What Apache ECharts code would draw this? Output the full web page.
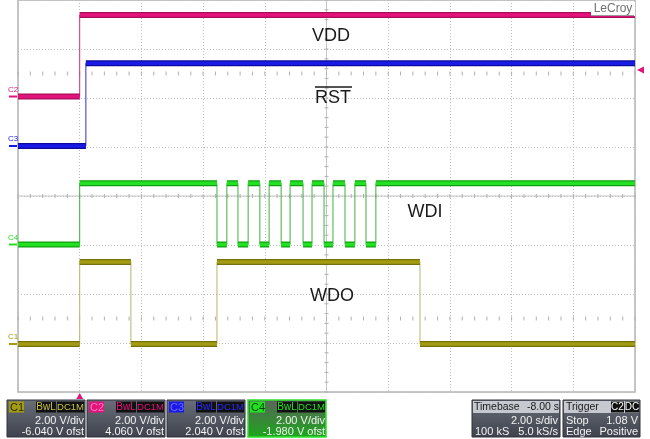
<!DOCTYPE html>
<html><head><meta charset="utf-8">
<script src="https://cdn.jsdelivr.net/npm/echarts@6/dist/echarts.min.js"></script>
<style>html,body{margin:0;padding:0;background:#fff}#c{width:650px;height:439px}</style>
</head><body><div id="c"></div>
<script>
// ---- data ----
const timeMin = -2, timeMax = 18, secPerDiv = 2;     // 10 divisions, trigger at t=0
const divMin = -4, divMax = 4;                       // 8 vertical divisions
const chNames = ['C1', 'C2', 'C3', 'C4'];
const vPerDiv = [2.00, 2.00, 2.00, 2.00];
const vOffsets = [-6.040, 4.060, 2.040, -1.980];
const c1Times = [-2, 0, 1.66, 4.45, 11.03, 18];
const c1Levels = [0, 3.35, 0, 3.35, 0];
const c2Times = [-2, 0, 18];
const c2Levels = [0, 3.33];
const c3Times = [-2, 0.2, 18];
const c3Levels = [0, 3.38];
const c4Times = [-2, 0, 4.45, 4.77, 5.13, 5.46, 5.84, 6.14, 6.53, 6.82, 7.24, 7.53, 7.92, 8.21, 8.60, 8.92, 9.28, 9.60, 18];
const c4Levels = [0, 2.5, 0, 2.5, 0, 2.5, 0, 2.5, 0, 2.5, 0, 2.5, 0, 2.5, 0, 2.5, 0, 2.5];
const signalNames = ['WDO', 'VDD', 'RST', 'WDI'];
const timebaseText = ['Timebase', '-8.00 s', '2.00 s/div', '100 kS', '5.0 kS/s'];
const triggerText = ['Trigger', 'C2', 'DC', 'Stop', '1.08 V', 'Edge', 'Positive'];
const triggerLevel = 1.08; // volts on C2

// ---- styles ----
const chColor = ['#a39c12', '#e3137c', '#1a1ae6', '#22e022'];
const chDark = ['#77700a', '#a80e5a', '#0c0c9c', '#12a012'];
const chEdge = ['#b8b470', '#d0307a', '#3030d0', '#40b040'];
const chLabelText = ['#2a2600', '#ff7ac0', '#6a6aff', '#004400'];
const chTagText = ['#c8c048', '#e3137c', '#2a2aff', '#22e022'];

const times = [c1Times, c2Times, c3Times, c4Times];
const levels = [c1Levels, c2Levels, c3Levels, c4Levels];

function levelData(t, l) {
  const d = [];
  for (let i = 0; i < l.length; i++) { d.push([t[i], l[i]]); d.push([t[i + 1], l[i]]); d.push([t[i + 1], null]); }
  return d;
}
function edgeData(t, l) {
  const d = [];
  for (let i = 1; i < l.length; i++) { d.push([t[i], l[i - 1]]); d.push([t[i], l[i]]); d.push([t[i], null]); }
  return d;
}

const yAxes = [{
  type: 'value', min: divMin, max: divMax, interval: 1,
  axisLabel: { show: false }, axisTick: { show: false }, axisLine: { show: false },
  splitLine: { show: true, lineStyle: { color: '#bdbdbd', type: [1, 2], width: 1 } }
}];
for (let i = 0; i < 4; i++) {
  const c = -vOffsets[i];
  yAxes.push({ type: 'value', show: false, min: c + divMin * vPerDiv[i], max: c + divMax * vPerDiv[i], splitLine: { show: false } });
}

const series = [{
  type: 'custom', xAxisIndex: 0, yAxisIndex: 0, silent: true, z: 1, clip: false,
  data: [[0, 0]],
  renderItem: function (params, api) {
    const ch = [];
    const st = { stroke: '#b0b0b0', lineWidth: 1 };
    const cx = (timeMin + timeMax) / 2;
    const p0 = api.coord([timeMin, 0]), p1 = api.coord([timeMax, 0]);
    ch.push({ type: 'line', shape: { x1: p0[0], y1: p0[1], x2: p1[0], y2: p1[1] }, style: { stroke: '#c4c4c4', lineWidth: 1 } });
    const q0 = api.coord([cx, divMin]), q1 = api.coord([cx, divMax]);
    ch.push({ type: 'line', shape: { x1: q0[0], y1: q0[1], x2: q1[0], y2: q1[1] }, style: { stroke: '#c4c4c4', lineWidth: 1 } });
    [0, 2.5, -2.5].forEach(function (yv) {
      for (let t = timeMin; t <= timeMax + 1e-9; t += secPerDiv / 5) {
        const p = api.coord([t, yv]);
        ch.push({ type: 'line', shape: { x1: p[0], y1: p[1] - 2, x2: p[0], y2: p[1] + 2 }, style: st });
      }
    });
    for (let v = divMin; v <= divMax + 1e-9; v += 0.2) {
      const p = api.coord([cx, v]);
      ch.push({ type: 'line', shape: { x1: p[0] - 2, y1: p[1], x2: p[0] + 2, y2: p[1] }, style: st });
    }
    return { type: 'group', children: ch };
  }
}];
for (let i = 0; i < 4; i++) {
  const base = { type: 'line', xAxisIndex: 0, yAxisIndex: i + 1, symbol: 'none', connectNulls: false, silent: true, animation: false };
  series.push(Object.assign({}, base, { name: chNames[i] + 'edge', data: edgeData(times[i], levels[i]), lineStyle: { color: chEdge[i], width: 1 }, z: 3 }));
  series.push(Object.assign({}, base, { name: chNames[i] + 'o', data: levelData(times[i], levels[i]), lineStyle: { color: chDark[i], width: 6 }, z: 4 }));
  series.push(Object.assign({}, base, { name: chNames[i], data: levelData(times[i], levels[i]), lineStyle: { color: chColor[i], width: 3.5 }, z: 5 }));
}

const chart = echarts.init(document.getElementById('c'), null, { renderer: 'canvas' });
chart.setOption({
  animation: false,
  backgroundColor: '#ffffff',
  grid: { left: 18, top: 0, width: 617, height: 392, show: true, borderColor: '#b4b4b4', borderWidth: 1.5, backgroundColor: 'transparent' },
  xAxis: {
    type: 'value', min: timeMin, max: timeMax, interval: secPerDiv,
    axisLabel: { show: false }, axisTick: { show: false }, axisLine: { show: false },
    splitLine: { show: true, lineStyle: { color: '#bdbdbd', type: [1, 2], width: 1 } }
  },
  yAxis: yAxes,
  series: series
});

// ---- decorations ----
const FONT = '"Liberation Sans", Arial, sans-serif';
const g = [];
// channel ground markers at left
for (let i = 0; i < 4; i++) {
  const y = chart.convertToPixel({ yAxisIndex: i + 1 }, 0);
  g.push({ type: 'line', shape: { x1: 9, y1: y, x2: 17, y2: y }, style: { stroke: chColor[i], lineWidth: 2 }, silent: true });
  g.push({ type: 'text', x: 8, y: y - 3, style: { text: chNames[i], fill: chColor[i], font: '8px ' + FONT, textVerticalAlign: 'bottom' }, silent: true });
}
// trigger level marker (right) and trigger time marker (bottom)
const ty = chart.convertToPixel({ yAxisIndex: 2 }, triggerLevel);
g.push({ type: 'polygon', shape: { points: [[637, ty], [644, ty - 3.5], [644, ty + 3.5]] }, style: { fill: chColor[1] }, silent: true });
const tx = chart.convertToPixel({ xAxisIndex: 0 }, 0);
g.push({ type: 'polygon', shape: { points: [[tx, 393], [tx - 3.5, 399], [tx + 3.5, 399]] }, style: { fill: chColor[1] }, silent: true });
// LeCroy logo
g.push({ type: 'rect', shape: { x: 591, y: 2, width: 44, height: 14 }, style: { fill: '#ffffff' }, silent: true, z: 50 });
g.push({ type: 'line', shape: { x1: 591, y1: 15.5, x2: 634, y2: 15.5 }, style: { stroke: '#9a9a9a', lineWidth: 1 }, silent: true, z: 51 });
g.push({ type: 'text', x: 613, y: 9, style: { text: 'LeCroy', fill: '#707070', font: '12px ' + FONT, textAlign: 'center', textVerticalAlign: 'middle' }, silent: true, z: 51 });
// signal names
function label(txt, x, y) {
  g.push({ type: 'text', x: x, y: y, style: { text: txt, fill: '#1a1a1a', font: '18px ' + FONT, textAlign: 'center', textVerticalAlign: 'middle' }, silent: true, z: 60 });
}
label(signalNames[1], 331, 36);
label(signalNames[2], 333, 98);
g.push({ type: 'line', shape: { x1: 315, y1: 87, x2: 352, y2: 87 }, style: { stroke: '#1a1a1a', lineWidth: 1.5 }, silent: true, z: 60 });
label(signalNames[3], 425, 212);
label(signalNames[0], 332, 296);

// channel info boxes
const boxX = [7, 87, 167, 248];
function txt(t, x, y, color, align, extra, size) {
  return Object.assign({ type: 'text', x: x, y: y, style: { text: t, fill: color, font: (size || 11) + 'px ' + FONT, textAlign: align || 'left', textVerticalAlign: 'middle' }, silent: true, z: 71 }, extra || {});
}
for (let i = 0; i < 4; i++) {
  const x = boxX[i], sel = i === 3;
  g.push({ type: 'rect', shape: { x: x, y: 400, width: 78, height: 37 }, z: 70, silent: true,
    style: { fill: new echarts.graphic.LinearGradient(0, 0, 0, 1, sel ? [{ offset: 0, color: '#5c625c' }, { offset: 1, color: '#1aa81a' }] : [{ offset: 0, color: '#6a6e78' }, { offset: 1, color: '#3e424c' }]),
      stroke: sel ? '#30e030' : '#30333a', lineWidth: sel ? 1.5 : 1 } });
  g.push({ type: 'rect', shape: { x: x + 2, y: 401.5, width: 15, height: 11 }, style: { fill: chColor[i] }, z: 71, silent: true });
  g.push(txt(chNames[i], x + 3, 407.5, chLabelText[i], 'left', {}, 11));
  g.push({ type: 'rect', shape: { x: x + 29, y: 401.5, width: 20, height: 11 }, style: { fill: '#111111' }, z: 71, silent: true });
  g.push(txt('BwL', x + 39, 407.5, chTagText[i], 'center', {}, 10));
  g.push({ type: 'rect', shape: { x: x + 50, y: 401.5, width: 27, height: 11 }, style: { fill: '#111111' }, z: 71, silent: true });
  g.push(txt('DC1M', x + 63.5, 407.5, chTagText[i], 'center', {}, 9.5));
  g.push(txt(vPerDiv[i].toFixed(2) + ' V/div', x + 77, 420.5, '#f2f2f2', 'right'));
  g.push(txt(vOffsets[i].toFixed(3) + ' V ofst', x + 77, 431.5, '#f2f2f2', 'right'));
}
// timebase box
function infoBox(x, w) {
  g.push({ type: 'rect', shape: { x: x, y: 400, width: w, height: 37 }, z: 70, silent: true,
    style: { fill: new echarts.graphic.LinearGradient(0, 0, 0, 1, [{ offset: 0, color: '#6a6e78' }, { offset: 1, color: '#3e424c' }]), stroke: '#30333a', lineWidth: 1 } });
  g.push({ type: 'rect', shape: { x: x + 1, y: 401, width: w - 2, height: 12 }, style: { fill: '#c6c9d0' }, z: 71, silent: true });
}
infoBox(472, 88);
g.push(txt(timebaseText[0], 474, 407, '#1a1a1a', 'left', {}, 10.5));
g.push(txt(timebaseText[1], 559, 407, '#1a1a1a', 'right', {}, 10.5));
g.push(txt(timebaseText[2], 558, 420.5, '#f2f2f2', 'right'));
g.push(txt(timebaseText[3], 475, 431.5, '#f2f2f2', 'left'));
g.push(txt(timebaseText[4], 558, 431.5, '#f2f2f2', 'right'));
infoBox(563, 77);
g.push(txt(triggerText[0], 566, 407, '#1a1a1a', 'left', {}, 10.5));
g.push({ type: 'rect', shape: { x: 611, y: 401.5, width: 13, height: 11 }, style: { fill: '#111111' }, z: 72, silent: true });
g.push(txt(triggerText[1], 617.5, 407.5, '#ffffff', 'center', { z: 73 }, 10));
g.push({ type: 'rect', shape: { x: 625, y: 401.5, width: 14, height: 11 }, style: { fill: '#111111' }, z: 72, silent: true });
g.push(txt(triggerText[2], 632, 407.5, '#ffffff', 'center', { z: 73 }, 10));
g.push(txt(triggerText[3], 566, 420.5, '#f2f2f2', 'left'));
g.push(txt(triggerText[4], 638, 420.5, '#f2f2f2', 'right'));
g.push(txt(triggerText[5], 566, 431.5, '#f2f2f2', 'left'));
g.push(txt(triggerText[6], 638, 431.5, '#f2f2f2', 'right'));

chart.setOption({ graphic: { elements: g } });
</script>
</body></html>
